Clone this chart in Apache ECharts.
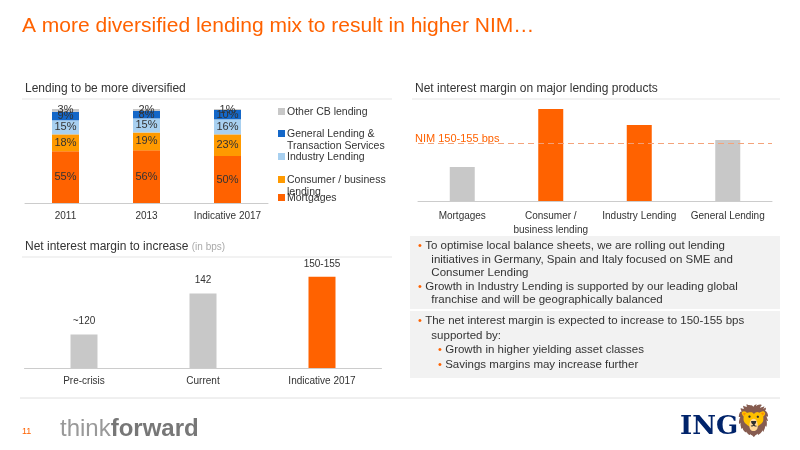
<!DOCTYPE html>
<html><head><meta charset="utf-8">
<script src="https://cdn.jsdelivr.net/npm/echarts@6/dist/echarts.min.js"></script>
<style>html,body{margin:0;padding:0;background:#fff}#c{width:800px;height:450px}</style>
</head><body><div id="c"></div>
<script>
const mixYears = ['2011','2013','Indicative 2017'];
const mortgages = [55,56,50];
const consumer = [18,19,23];
const industry = [15,15,16];
const general = [9,8,10];
const other = [3,2,1];
const productCats = ['Mortgages','Consumer /\nbusiness lending','Industry Lending','General Lending'];
const productNim = [34,92,76,61];
const nimTarget = 58;
const periodCats = ['Pre-crisis','Current','Indicative 2017'];
const periodNim = [120,142,151];
const periodLabels = ['~120','142','150-155'];

const OR='#FF6200', GR='#C8C8C8';
const font='Arial, Liberation Sans, sans-serif';
const lbl={show:true,formatter:p=>p.value+'%',color:'#333',fontSize:11,fontFamily:font};
function stack(name,data,color){return {name,type:'bar',stack:'a',data,barWidth:27,itemStyle:{color},label:lbl,xAxisIndex:0,yAxisIndex:0};}
const axisCommon={axisTick:{show:false},axisLine:{lineStyle:{color:'#ccc'}},axisLabel:{color:'#333',fontSize:10,fontFamily:font,interval:0}};
const hidY={show:false};
const legendItems=[['Other CB lending',GR,112],['General Lending &\nTransaction Services','#1467C8',134],['Industry Lending','#A8D0F0',157],['Consumer / business\nlending','#FF9A00',180],['Mortgages',OR,198]];
const g=[
 {type:'text',left:22,top:16,style:{text:'A more diversified lending mix to result in higher NIM…',fill:OR,font:'21px '+font}},
 {type:'text',left:25,top:83,style:{text:'Lending to be more diversified',fill:'#333',font:'12px '+font}},
 {type:'line',shape:{x1:22,y1:99,x2:392,y2:99},style:{stroke:'#e5e5e5'}},
 {type:'text',left:415,top:83,style:{text:'Net interest margin on major lending products',fill:'#333',font:'12px '+font}},
 {type:'line',shape:{x1:412,y1:99,x2:780,y2:99},style:{stroke:'#e5e5e5'}},
 {type:'text',left:25,top:241,style:{rich:{a:{fill:'#333',font:'12px '+font},b:{fill:'#aaa',font:'10px '+font}},text:'{a|Net interest margin to increase} {b|(in bps)}'}},
 {type:'line',shape:{x1:22,y1:257,x2:392,y2:257},style:{stroke:'#e5e5e5'}},
 {type:'text',left:415,top:133,style:{text:'NIM 150-155 bps',fill:OR,font:'11px '+font}},
 {type:'rect',shape:{x:410,y:236,width:370,height:142},style:{fill:'#F2F2F2'}},
 {type:'line',shape:{x1:410,y1:310,x2:780,y2:310},style:{stroke:'#fff',lineWidth:2}},
 {type:'text',left:418,top:240,style:{rich:{o:{fill:OR,font:'11px '+font},t:{fill:'#333',font:'11.5px '+font,lineHeight:13.5}},
   text:'{o|•} {t|To optimise local balance sheets, we are rolling out lending}\n    {t|initiatives in Germany, Spain and Italy focused on SME and}\n    {t|Consumer Lending}\n{o|•} {t|Growth in Industry Lending is supported by our leading global}\n    {t|franchise and will be geographically balanced}'}},
 {type:'text',left:418,top:315,style:{rich:{o:{fill:OR,font:'11px '+font},t:{fill:'#333',font:'11.5px '+font,lineHeight:14.5}},
   text:'{o|•} {t|The net interest margin is expected to increase to 150-155 bps}\n    {t|supported by:}\n      {o|•} {t|Growth in higher yielding asset classes}\n      {o|•} {t|Savings margins may increase further}'}},
 {type:'line',shape:{x1:20,y1:398,x2:780,y2:398},style:{stroke:'#e0e0e0'}},
 {type:'text',left:22,top:427,style:{text:'11',fill:OR,font:'9px '+font}},
 {type:'text',left:60,top:417,style:{rich:{a:{fill:'#999',font:'24px '+font},b:{fill:'#777',font:'bold 24px '+font}},text:'{a|think}{b|forward}'}},
 {type:'text',left:680,top:414,style:{text:'ING',fill:'#00236A',font:'bold 26px DejaVu Serif, serif'}},
 {type:'text',left:735,top:408,style:{text:'🦁',fill:OR,font:'30px '+font}}
];
legendItems.forEach(([t,c,y])=>{
 g.push({type:'rect',shape:{x:278,y:y-4,width:7,height:7},style:{fill:c}});
 g.push({type:'text',left:287,top:y-6,style:{text:t,fill:'#333',font:'10.5px '+font,lineHeight:12}});
});
const chart=echarts.init(document.getElementById('c'));
chart.setOption({
 animation:false,
 graphic:g,
 grid:[{left:25,width:243,top:109,height:94},{left:418,width:354,top:105,height:96},{left:24.5,width:357,top:260,height:108}],
 xAxis:[{type:'category',data:mixYears,gridIndex:0,...axisCommon},
        {type:'category',data:productCats,gridIndex:1,...axisCommon,axisLabel:{...axisCommon.axisLabel,lineHeight:14}},
        {type:'category',data:periodCats,gridIndex:2,...axisCommon}],
 yAxis:[{type:'value',gridIndex:0,max:100,...hidY},{type:'value',gridIndex:1,max:96,...hidY},{type:'value',gridIndex:2,min:102,max:160,...hidY}],
 series:[
  stack('Mortgages',mortgages,OR),stack('Consumer',consumer,'#FF9A00'),stack('Industry',industry,'#A8D0F0'),
  stack('General',general,'#1467C8'),stack('Other',other,GR),
  {type:'bar',xAxisIndex:1,yAxisIndex:1,barWidth:25,data:productNim.map((v,i)=>({value:v,itemStyle:{color:(i==1||i==2)?OR:GR}})),
   markLine:{symbol:'none',silent:true,label:{show:false},lineStyle:{color:'#F4A37A',type:[6,4],width:1,opacity:1},
     data:[{yAxis:nimTarget,lineStyle:{color:'#F4A37A',type:[6,4],width:1}}]}},
  {type:'bar',xAxisIndex:2,yAxisIndex:2,barWidth:27,data:periodNim.map((v,i)=>({value:v,itemStyle:{color:i==2?OR:GR}})),
   label:{show:true,position:'top',distance:8,color:'#333',fontSize:10,fontFamily:font,formatter:p=>periodLabels[p.dataIndex]}}
 ]
});
</script></body></html>
